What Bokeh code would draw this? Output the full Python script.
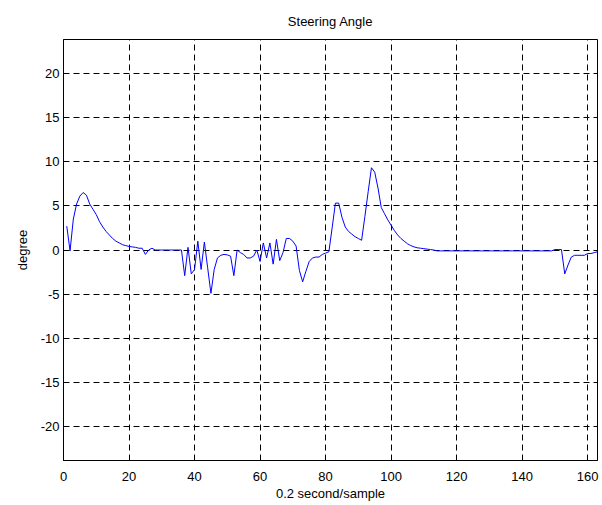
from bokeh.plotting import figure
from bokeh.models import Range1d, FixedTicker, ColumnDataSource
from bokeh.embed import file_html
from bokeh.resources import INLINE

# ---- data ----
angle = [
    2.7, -0.1, 3.5, 5.2, 6.1, 6.5, 6.2, 5.2, 4.6, 4.0,          # 1-10
    3.2, 2.6, 2.1, 1.7, 1.3, 1.0, 0.8, 0.6, 0.5, 0.4,           # 11-20
    0.35, 0.3, 0.2, 0.2, -0.5, 0.0, 0.2, 0.0, 0.0, 0.0,         # 21-30
    0.0, 0.0, 0.0, 0.0, 0.0, 0.0, -2.9, 0.3, -2.7, -2.2,        # 31-40
    1.0, -2.2, 0.9, -2.0, -4.9, -2.2, -0.9, -0.6, -0.5, -0.55,  # 41-50
    -0.7, -2.9, 0.0, -0.3, -0.5, -0.9, -0.9, -0.7, 0.0, -1.3,   # 51-60
    0.8, -0.9, 0.8, -1.6, 1.2, -1.2, -0.3, 1.3, 1.3, 1.0,       # 61-70
    0.45, -2.3, -3.6, -2.4, -1.3, -0.9, -0.8, -0.8, -0.5, -0.35,# 71-80
    -0.2, 2.5, 5.3, 5.3, 3.7, 2.6, 2.1, 1.8, 1.5, 1.3,          # 81-90
    1.1, 3.8, 6.6, 9.3, 8.8, 7.0, 4.8, 4.1, 3.4, 2.8,           # 91-100
    2.2, 1.7, 1.3, 1.0, 0.7, 0.5, 0.35, 0.25, 0.2, 0.15,        # 101-110
    0.1, 0.05, 0.0, -0.1, -0.1, -0.1, -0.1, -0.1, -0.1, -0.1,   # 111-120
    -0.1, -0.1, -0.1, -0.1, -0.1, -0.1, -0.1, -0.1, -0.1, -0.1, # 121-130
    -0.1, -0.1, -0.1, -0.1, -0.1, -0.1, -0.1, -0.1, -0.1, -0.1, # 131-140
    -0.1, -0.1, -0.1, -0.1, -0.1, -0.1, -0.1, -0.1, -0.1, 0.05, # 141-150
    0.05, 0.05, -2.7, -1.7, -0.8, -0.6, -0.6, -0.6, -0.6, -0.4, # 151-160
    -0.4, -0.3, -0.2,                                            # 161-163
]
samples = list(range(1, len(angle) + 1))

x_ticks = [0, 20, 40, 60, 80, 100, 120, 140, 160]
y_ticks = [-20, -15, -10, -5, 0, 5, 10, 15, 20]
y_tick_labels = ["-20", "-15", "-10", "-5", "0", "5", "10", "15", "20"]

FONT = "Liberation Sans"

p = figure(width=602, height=505, output_backend="svg", toolbar_location=None,
           x_range=Range1d(0, 163), y_range=Range1d(-23.8, 23.8),
           title="Steering Angle",
           min_border_left=63, min_border_right=5, min_border_top=38, min_border_bottom=45)

p.background_fill_color = "white"
p.border_fill_color = "white"
p.outline_line_color = "black"
p.outline_line_width = 1

p.title.align = "center"
p.title.text_font = FONT
p.title.text_font_size = "13px"
p.title.text_font_style = "normal"
p.title.text_color = "black"
p.title.standoff = 22

src = ColumnDataSource(dict(x=samples, y=angle))
p.line("x", "y", source=src, line_color="#0000ff", line_width=1)

for ax in (p.xaxis[0], p.yaxis[0]):
    ax.major_label_text_font = FONT
    ax.major_label_text_font_size = "13px"
    ax.major_label_text_color = "black"
    ax.axis_label_text_font = FONT
    ax.axis_label_text_font_size = "13px"
    ax.axis_label_text_font_style = "normal"
    ax.axis_label_text_color = "black"
    ax.major_tick_in = 5
    ax.major_tick_out = 0
    ax.minor_tick_in = 0
    ax.minor_tick_out = 0
    ax.axis_line_color = "black"
    ax.major_tick_line_color = "black"

p.xaxis[0].ticker = FixedTicker(ticks=x_ticks)
p.yaxis[0].ticker = FixedTicker(ticks=y_ticks)
p.yaxis[0].major_label_overrides = dict(zip(y_ticks, y_tick_labels))
p.xaxis[0].axis_label = "0.2 second/sample"
p.yaxis[0].axis_label = "degree"
p.xaxis[0].major_label_standoff = 11
p.xaxis[0].axis_label_standoff = 2
p.yaxis[0].major_label_standoff = 4
p.yaxis[0].axis_label_standoff = 8

for g in (p.xgrid[0], p.ygrid[0]):
    g.grid_line_color = "black"
    g.grid_line_dash = "6 4"
    g.grid_line_width = 1
p.xgrid[0].ticker = FixedTicker(ticks=x_ticks)
p.ygrid[0].ticker = FixedTicker(ticks=y_ticks)

open("out.html", "w").write(file_html(p, INLINE))
